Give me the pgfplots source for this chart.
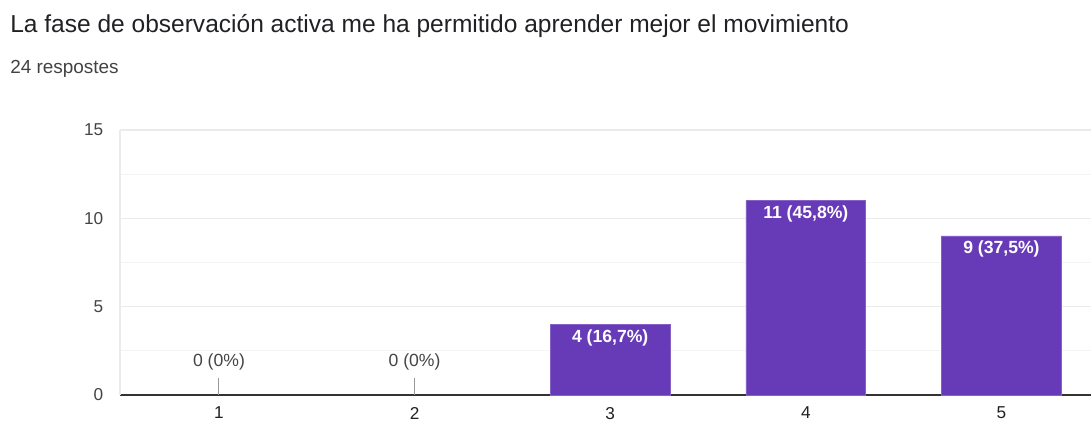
\documentclass[border=0pt]{standalone}
\usepackage{pgfplots}
\pgfplotsset{compat=1.18}
\usepackage{fontspec}
\setmainfont{Liberation Sans}
\definecolor{barpurple}{HTML}{673AB7}
\definecolor{titlecol}{HTML}{202124}
\definecolor{tickcol}{HTML}{444444}
\definecolor{gridmaj}{HTML}{EBEBEB}
\definecolor{gridmin}{HTML}{F4F4F4}
\definecolor{axiscol}{HTML}{333333}
\definecolor{stemcol}{HTML}{999999}
\begin{document}
\begin{tikzpicture}[x=1pt,y=1pt]
\useasboundingbox (0,0) rectangle (818.25,317.25);
\node[anchor=west,inner sep=0,text=titlecol,font=\fontsize{18.4}{21}\selectfont] at (7.5,297.5) {La fase de observación activa me ha permitido aprender mejor el movimiento};
\node[anchor=west,inner sep=0,text=titlecol!85,font=\fontsize{14.2}{17}\selectfont] at (7.5,265.5) {24 respostes};
\begin{axis}[
  at={(90pt,21pt)}, anchor=south west,
  scale only axis, width=728.25pt, height=198.75pt,
  xmin=0.494, xmax=5.458, ymin=0, ymax=15,
  xtick={1,2,3,4,5}, ytick={0,5,10,15}, minor ytick={2.5,7.5,12.5},
  ymajorgrids, yminorgrids,
  major grid style={draw=gridmaj, line width=0.9pt},
  minor grid style={draw=gridmin, line width=0.9pt},
  axis x line*=bottom, axis y line*=left,
  x axis line style={draw=axiscol, line width=1.1pt, -},
  y axis line style={draw=gridmaj, line width=0.9pt, -},
  major tick length=0pt, minor tick length=0pt,
  tick label style={font=\fontsize{12.9}{15}\selectfont, text=tickcol},
  xticklabel style={text=titlecol, yshift=-5.5pt},
  yticklabel style={xshift=-9pt},
  /pgf/number format/assume math mode=true,
  clip=false,
]
\addplot[ybar, bar width=0.613, fill=barpurple, draw=barpurple!80!white, line width=0.5pt,
  point meta=explicit symbolic,
  nodes near coords,
  every node near coord/.style={anchor=north, yshift=-3.5pt, inner sep=0pt, text=white, font=\bfseries\fontsize{13.2}{15}\selectfont}]
  coordinates {(3,4) [4 (16,7\%)] (4,11) [11 (45,8\%)] (5,9) [9 (37,5\%)]};
\addplot[ybar, bar width=0.613, draw=none, fill=none,
  point meta=explicit symbolic,
  nodes near coords={\shortstack{\textcolor{tickcol}{\pgfplotspointmeta}\\[3pt]\textcolor{stemcol}{\rule{0.75pt}{12.75pt}}}},
  every node near coord/.style={anchor=south, yshift=0pt, inner sep=0pt, font=\fontsize{13.2}{15}\selectfont}]
  coordinates {(1,0) [0 (0\%)] (2,0) [0 (0\%)]};
\end{axis}
\end{tikzpicture}
\end{document}
